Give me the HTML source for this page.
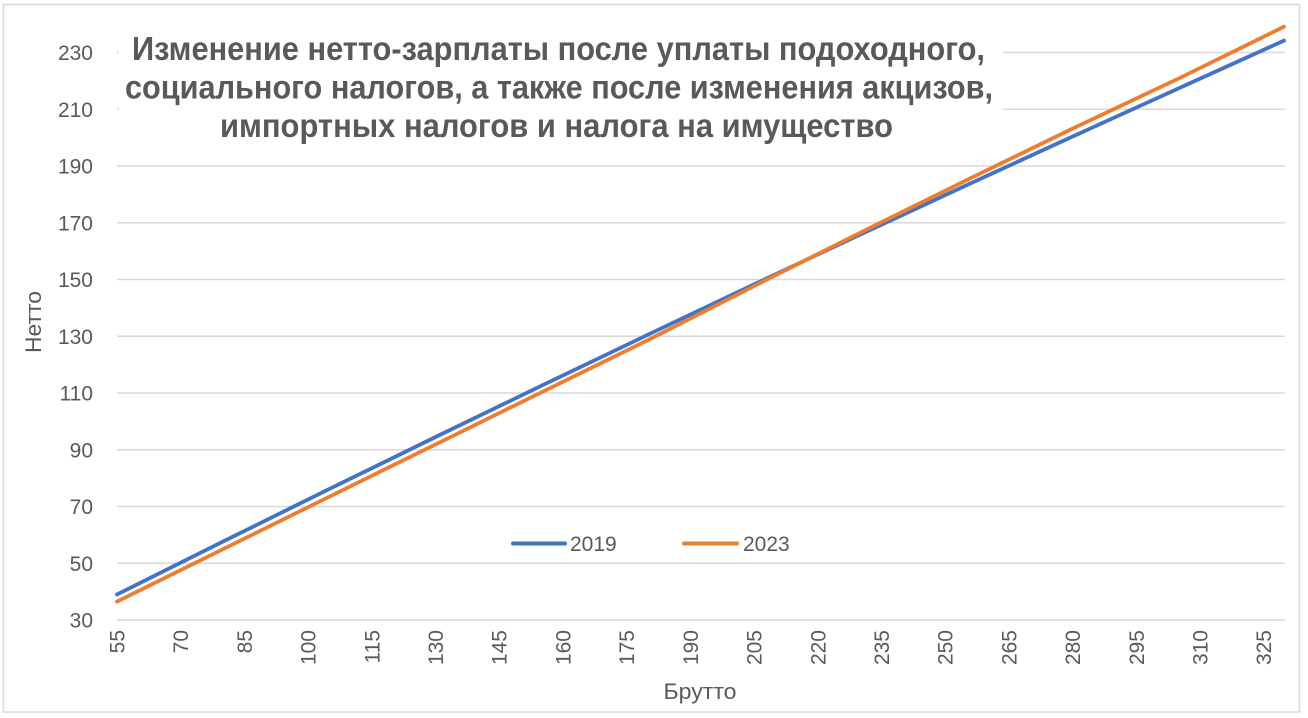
<!DOCTYPE html>
<html>
<head>
<meta charset="utf-8">
<style>
  html,body{margin:0;padding:0;background:#fff;}
  svg{display:block;}
  text{font-family:"Liberation Sans","Noto Sans CJK SC",sans-serif;fill:#595959;}
</style>
</head>
<body>
<svg width="1308" height="718" viewBox="0 0 1308 718" xmlns="http://www.w3.org/2000/svg">
  <rect x="0" y="0" width="1308" height="718" fill="#fff"/>
  <rect x="3.5" y="4.5" width="1296" height="707.5" fill="#fff" stroke="#d9d9d9" stroke-width="1.5"/>

  <!-- gridlines -->
  <g stroke="#d9d9d9" stroke-width="1.6">
    <line x1="117" y1="52.5" x2="119" y2="52.5"/>
    <line x1="1003" y1="52.5" x2="1285" y2="52.5"/>
    <line x1="117" y1="109.25" x2="119" y2="109.25"/>
    <line x1="1003" y1="109.25" x2="1285" y2="109.25"/>
    <line x1="117" y1="166" x2="1285" y2="166"/>
    <line x1="117" y1="222.75" x2="1285" y2="222.75"/>
    <line x1="117" y1="279.5" x2="1285" y2="279.5"/>
    <line x1="117" y1="336.25" x2="1285" y2="336.25"/>
    <line x1="117" y1="393" x2="1285" y2="393"/>
    <line x1="117" y1="449.75" x2="1285" y2="449.75"/>
    <line x1="117" y1="506.5" x2="1285" y2="506.5"/>
    <line x1="117" y1="563.25" x2="1285" y2="563.25"/>
    <line x1="117" y1="620" x2="1285" y2="620"/>
  </g>

  <!-- y tick labels -->
  <g font-size="21" text-anchor="end">
    <text x="93" y="60">230</text>
    <text x="93" y="116.75">210</text>
    <text x="93" y="173.5">190</text>
    <text x="93" y="230.25">170</text>
    <text x="93" y="287">150</text>
    <text x="93" y="343.75">130</text>
    <text x="93" y="400.5">110</text>
    <text x="93" y="457.25">90</text>
    <text x="93" y="514">70</text>
    <text x="93" y="570.75">50</text>
    <text x="93" y="627.5">30</text>
  </g>

  <!-- x tick labels -->
  <g font-size="21" text-anchor="end">
    <text transform="translate(124.5,630) rotate(-90)">55</text>
    <text transform="translate(188.2,630) rotate(-90)">70</text>
    <text transform="translate(251.9,630) rotate(-90)">85</text>
    <text transform="translate(315.6,630) rotate(-90)">100</text>
    <text transform="translate(379.3,630) rotate(-90)">115</text>
    <text transform="translate(443.0,630) rotate(-90)">130</text>
    <text transform="translate(506.7,630) rotate(-90)">145</text>
    <text transform="translate(570.4,630) rotate(-90)">160</text>
    <text transform="translate(634.1,630) rotate(-90)">175</text>
    <text transform="translate(697.8,630) rotate(-90)">190</text>
    <text transform="translate(761.6,630) rotate(-90)">205</text>
    <text transform="translate(825.3,630) rotate(-90)">220</text>
    <text transform="translate(889.0,630) rotate(-90)">235</text>
    <text transform="translate(952.7,630) rotate(-90)">250</text>
    <text transform="translate(1016.4,630) rotate(-90)">265</text>
    <text transform="translate(1080.1,630) rotate(-90)">280</text>
    <text transform="translate(1143.8,630) rotate(-90)">295</text>
    <text transform="translate(1207.5,630) rotate(-90)">310</text>
    <text transform="translate(1271.2,630) rotate(-90)">325</text>
  </g>

  <!-- axis titles -->
  <text x="700" y="699" font-size="22" text-anchor="middle" textLength="73" lengthAdjust="spacingAndGlyphs">Брутто</text>
  <text transform="translate(41,322) rotate(-90)" font-size="22" text-anchor="middle" textLength="62" lengthAdjust="spacingAndGlyphs">Нетто</text>

  <!-- series -->
  <polyline fill="none" stroke="#4472C4" stroke-width="3.8" stroke-linejoin="round" stroke-linecap="round"
    points="117,594.46 223.18,541.46 329.37,488.96 435.55,437.01 541.73,385.59 647.91,334.72 754.10,284.35 860.28,234.55 966.46,185.27 1072.64,136.52 1178.82,88.28 1284,40.61"/>
  <polyline fill="none" stroke="#ED7D31" stroke-width="3.8" stroke-linejoin="round" stroke-linecap="round"
    points="117,601.56 223.18,549.09 329.37,496.68 435.55,444.42 541.73,392.15 647.91,340.11 754.10,286.03 860.28,232.68 966.46,180.19 1072.64,128.54 1178.82,78.41 1284,26.68"/>

  <!-- title box -->
  <rect x="119" y="28" width="883" height="124" fill="#fff"/>
  <g font-size="33" font-weight="bold">
    <text x="132" y="60" textLength="853" lengthAdjust="spacingAndGlyphs">Изменение нетто-зарплаты после уплаты подоходного,</text>
    <text x="125" y="98.5" textLength="868" lengthAdjust="spacingAndGlyphs">социального налогов, а также после изменения акцизов,</text>
    <text x="220" y="137" textLength="673" lengthAdjust="spacingAndGlyphs">импортных налогов и налога на имущество</text>
  </g>

  <!-- legend -->
  <line x1="513" y1="543.5" x2="565" y2="543.5" stroke="#4472C4" stroke-width="4" stroke-linecap="round"/>
  <text x="570" y="551" font-size="21">2019</text>
  <line x1="684" y1="543.5" x2="737" y2="543.5" stroke="#ED7D31" stroke-width="4" stroke-linecap="round"/>
  <text x="743" y="551" font-size="21">2023</text>
</svg>
</body>
</html>
